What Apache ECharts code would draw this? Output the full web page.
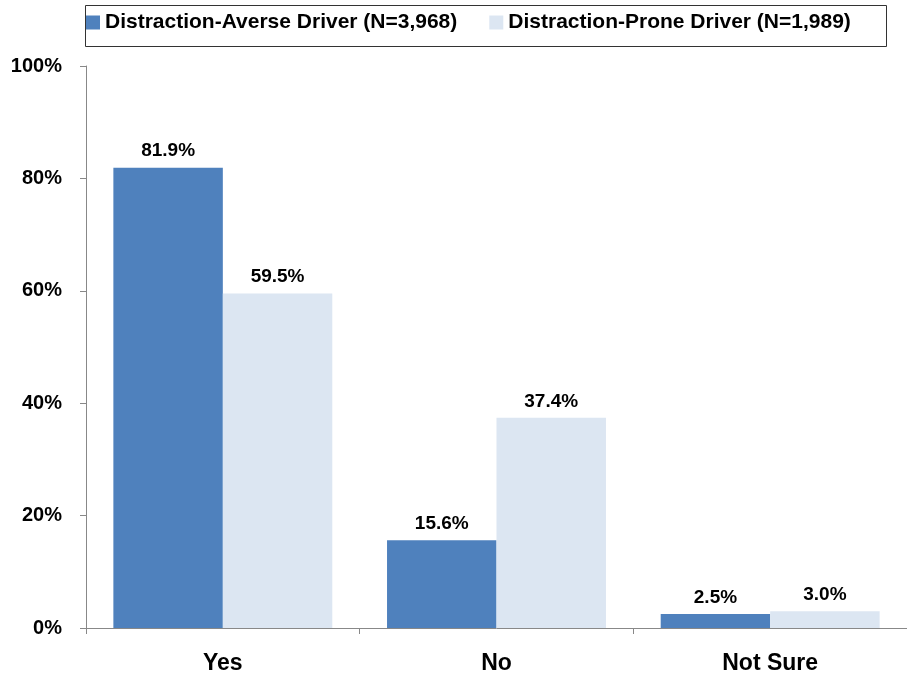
<!DOCTYPE html>
<html><head><meta charset="utf-8">
<script src="https://cdn.jsdelivr.net/npm/echarts@6/dist/echarts.min.js"></script>
<style>html,body{margin:0;padding:0;background:#fff}#c{width:907px;height:676px}</style>
</head><body><div id="c"></div>
<script>
const categories = ['Yes', 'No', 'Not Sure'];
const seriesNames = ['Distraction-Averse Driver (N=3,968)', 'Distraction-Prone Driver (N=1,989)'];
const averseValues = [81.9, 15.6, 2.5];
const proneValues = [59.5, 37.4, 3.0];
const yTicks = [0, 20, 40, 60, 80, 100];

const font = '"Liberation Sans", Arial, sans-serif';
const chart = echarts.init(document.getElementById('c'));
const lbl = {show: true, position: 'top', distance: 7, fontFamily: font, fontWeight: 'bold', fontSize: 19, color: '#000',
  formatter: p => p.value.toFixed(1) + '%'};
chart.setOption({
  animation: false,
  graphic: [{type: 'rect', left: 83, top: 3, shape: {width: 801, height: 41},
    style: {fill: 'none', stroke: '#333', lineWidth: 1}, silent: true}],
  legend: {
    top: 12, left: 86,
    padding: 0,
    itemWidth: 14, itemHeight: 14, itemGap: 32,
    icon: 'rect',
    textStyle: {fontFamily: font, fontWeight: 'bold', fontSize: 21, color: '#000'},
    data: seriesNames
  },
  grid: {left: 86, top: 66, width: 828, height: 562, containLabel: false},
  xAxis: {
    type: 'category', data: categories,
    axisLine: {lineStyle: {color: '#888', width: 1}},
    axisTick: {show: true, alignWithLabel: false, length: 6, lineStyle: {color: '#888'}},
    axisLabel: {fontFamily: font, fontWeight: 'bold', fontSize: 23, color: '#000', margin: 24}
  },
  yAxis: {
    type: 'value', min: 0, max: 100, interval: 20,
    axisLine: {show: true, lineStyle: {color: '#888', width: 1}},
    axisTick: {show: true, length: 6, lineStyle: {color: '#888'}},
    splitLine: {show: false},
    axisLabel: {fontFamily: font, fontWeight: 'bold', fontSize: 20, color: '#000', margin: 24,
      formatter: v => yTicks.includes(v) ? v + '%' : ''}
  },
  series: [
    {name: seriesNames[0], type: 'bar', data: averseValues, barGap: '0%', barCategoryGap: '20%',
      itemStyle: {color: '#4F81BD'}, label: lbl},
    {name: seriesNames[1], type: 'bar', data: proneValues,
      itemStyle: {color: '#DCE6F2'}, label: lbl}
  ]
});
</script></body></html>
